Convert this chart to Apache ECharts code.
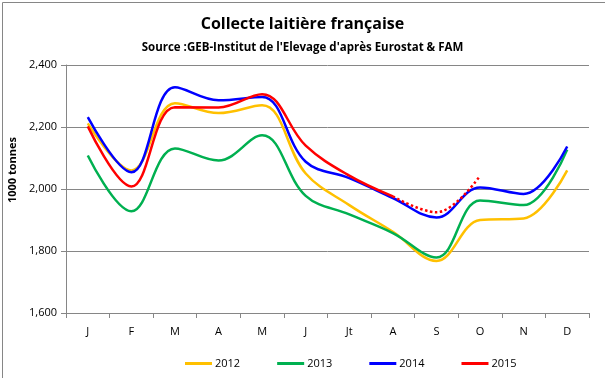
<!DOCTYPE html>
<html><head><meta charset="utf-8">
<script src="https://cdn.jsdelivr.net/npm/echarts@6/dist/echarts.min.js"></script>
<style>html,body{margin:0;padding:0;background:#fff}#c{width:605px;height:378px}</style>
</head><body><div id="c"></div>
<script>
var months = ['J','F','M','A','M','J','Jt','A','S','O','N','D'];
var yTicks = [1600, 1800, 2000, 2200, 2400];
var s2012 = [2212, 2060, 2277, 2245, 2270, 2050, 1948, 1862, 1768, 1900, 1905, 2060];
var s2013 = [2108, 1928, 2131, 2092, 2173, 1978, 1918, 1858, 1779, 1963, 1948, 2127];
var s2014 = [2232, 2054, 2328, 2286, 2297, 2088, 2035, 1971, 1908, 2005, 1984, 2137];
var s2015 = [2202, 2008, 2264, 2263, 2306, 2140, 2043, 1976, null, null, null, null];
var s2015est = [null, null, null, null, null, null, null, 1976, 1925, 2043, null, null];
var names = ['2012','2013','2014','2015'];
var colors = ['#FFC000','#00B050','#0000FF','#FF0000'];

var font = 'Open Sans';
var chart = echarts.init(document.getElementById('c'));
function ser(name, data, color, type) {
  return {name: name, type: 'line', data: data, smooth: 0.38, symbol: 'none',
    lineStyle: {color: color, width: 2.5, type: type || 'solid'}, itemStyle: {color: color}};
}
chart.setOption({
  animation: false,
  title: [{
    text: 'Collecte laitière française', left: 'center', top: 11,
    textStyle: {fontFamily: font, fontWeight: 'bold', fontSize: 16, color: '#000'}
  }, {
    text: "Source :GEB-Institut de l'Elevage d'après Eurostat & FAM", left: 'center', top: 37,
    textStyle: {fontFamily: font, fontWeight: 'bold', fontSize: 11.5, color: '#000'}
  }],
  grid: {left: 66, right: 16, top: 65, bottom: 65},
  legend: {
    data: names, left: 180, top: 353, itemWidth: 27, itemHeight: 3, itemGap: 37,
    icon: 'rect', textStyle: {fontFamily: font, fontSize: 11, color: '#000', padding: [0,0,0,-2]}
  },
  xAxis: {
    type: 'category', data: months, boundaryGap: true,
    axisLine: {lineStyle: {color: '#868686', width: 1}},
    axisTick: {show: true, length: 5, lineStyle: {color: '#868686'}, alignWithLabel: false},
    axisLabel: {fontFamily: font, fontSize: 11, color: '#000', margin: 13}
  },
  yAxis: {
    type: 'value', min: yTicks[0], max: yTicks[yTicks.length-1], interval: 200,
    axisLine: {show: true, lineStyle: {color: '#868686'}},
    axisTick: {show: true, length: 5, lineStyle: {color: '#868686'}},
    splitLine: {lineStyle: {color: '#868686', width: 1}},
    axisLabel: {fontFamily: font, fontSize: 11, color: '#000', margin: 9,
      formatter: function (v) { return v.toLocaleString('en-US'); }}
  },
  graphic: [{
    type: 'rect', left: 0, top: 0, shape: {x: 0.5, y: 0.5, width: 603, height: 376},
    style: {fill: 'none', stroke: '#868686', lineWidth: 1}, silent: true
  }, {
    type: 'text', rotation: Math.PI / 2, x: 13, y: 170,
    style: {text: '1000 tonnes', font: 'bold 11px "Open Sans"', fill: '#000', textAlign: 'center', textVerticalAlign: 'middle'}
  }],
  series: [
    ser(names[0], s2012, colors[0]),
    ser(names[1], s2013, colors[1]),
    ser(names[2], s2014, colors[2]),
    ser(names[3], s2015, colors[3]),
    ser('2015 est.', s2015est, colors[3], 'dotted')
  ]
});
</script></body></html>
